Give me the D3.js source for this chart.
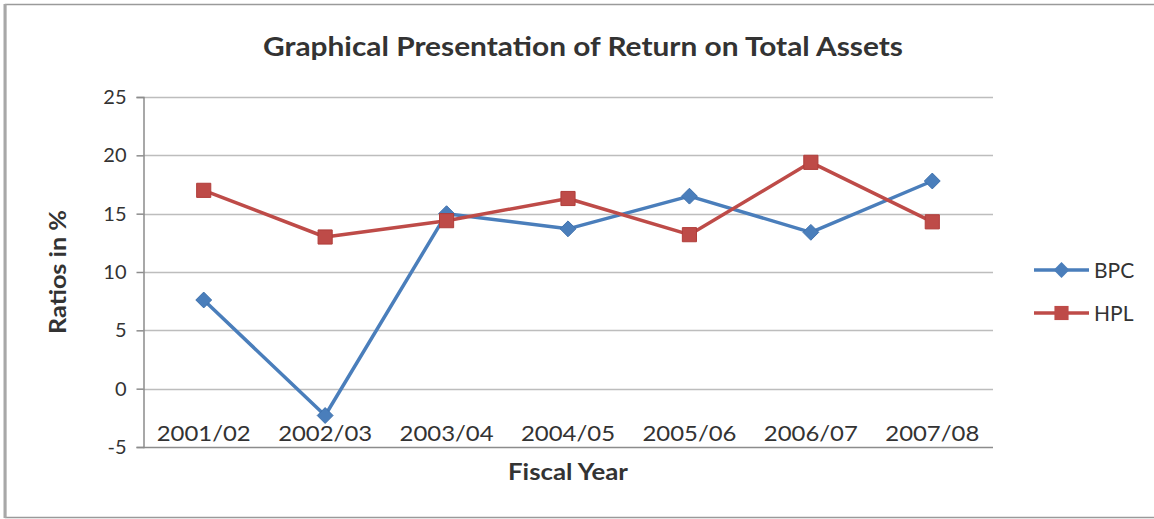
<!DOCTYPE html>
<html>
<head>
<meta charset="utf-8">
<script src="https://cdn.jsdelivr.net/npm/d3@7"></script>
<style>
  html, body { margin: 0; padding: 0; background: #fff; }
  svg { display: block; }
  text { font-family: Lato, "Open Sans", sans-serif; fill: #333; }
</style>
</head>
<body>
<svg id="chart" width="1154" height="519"></svg>
<script>
// Fiscal years on the category axis
const years = ["2001/02", "2002/03", "2003/04", "2004/05", "2005/06", "2006/07", "2007/08"];
// Return on total assets (%) per company
const bpcValues = [7.6, -2.3, 15.0, 13.7, 16.5, 13.4, 17.8];
const hplValues = [17.0, 13.0, 14.4, 16.3, 13.2, 19.4, 14.3];
const seriesNames = ["BPC", "HPL"];
const seriesColors = ["#4a7ebb", "#be4b48"];
const yTicks = [-5, 0, 5, 10, 15, 20, 25];

const svg = d3.select("#chart");

// outer chart frame
svg.append("path")
  .attr("d", "M1160,4.5 H5.5 V517.5 H1160")
  .attr("fill", "none").attr("stroke", "#9a9a9a").attr("stroke-width", 1.5);
svg.append("line").attr("x1", 5).attr("x2", 5).attr("y1", 4).attr("y2", 518)
  .attr("stroke", "#a8a8a8").attr("stroke-width", 3);

const plot = { left: 143, right: 993, top: 97, bottom: 447 };

const x = d3.scaleBand().domain(years).range([plot.left, plot.right]);
const y = d3.scaleLinear().domain([-5, 25]).range([plot.bottom, plot.top]);

// horizontal gridlines
svg.append("g").selectAll("line").data(yTicks).join("line")
  .attr("x1", plot.left).attr("x2", plot.right)
  .attr("y1", d => Math.round(y(d)) + 0.5).attr("y2", d => Math.round(y(d)) + 0.5)
  .attr("stroke", d => d === -5 ? "#8c8c8c" : "#bdbdbd").attr("stroke-width", 1.5);

// y axis (plain hyphen for negative values)
const yAxis = d3.axisLeft(y).tickValues(yTicks).tickSize(7).tickPadding(10)
  .tickFormat(d => String(d));
const gy = svg.append("g").attr("transform", `translate(${plot.left + 0.5},0)`).call(yAxis);
gy.select(".domain").attr("stroke", "#8c8c8c").attr("stroke-width", 1.5);
gy.selectAll(".tick line").attr("stroke", "#8c8c8c").attr("stroke-width", 1.5);
gy.selectAll(".tick text").attr("font-size", 20).attr("fill", "#333")
  .style("font-family", "Lato, sans-serif");

// category labels, placed just above the bottom axis line
svg.append("g").selectAll("text").data(years).join("text")
  .attr("x", d => x(d) + x.bandwidth() / 2)
  .attr("y", 441)
  .attr("text-anchor", "middle")
  .attr("font-size", 21)
  .attr("textLength", 94).attr("lengthAdjust", "spacingAndGlyphs")
  .text(d => d);

// series lines and markers
const line = d3.line().x((d, i) => x(years[i]) + x.bandwidth() / 2).y(d => y(d));
const allSeries = [bpcValues, hplValues];

allSeries.forEach((vals, s) => {
  svg.append("path").datum(vals)
    .attr("d", line)
    .attr("fill", "none")
    .attr("stroke", seriesColors[s])
    .attr("stroke-width", 3.5)
    .attr("stroke-linejoin", "round");
});

const diamond = d3.symbol().type(d3.symbolDiamond2).size(160);
const square = d3.symbol().type(d3.symbolSquare).size(200);

allSeries.forEach((vals, s) => {
  svg.append("g").selectAll("path").data(vals).join("path")
    .attr("transform", (d, i) => `translate(${x(years[i]) + x.bandwidth() / 2},${y(d)})`)
    .attr("d", s === 0 ? diamond : square)
    .attr("fill", seriesColors[s])
    .attr("stroke", s === 0 ? "#3f71ad" : "#b03d3a")
    .attr("stroke-width", 1);
});

// title
svg.append("text")
  .attr("x", 583).attr("y", 56)
  .attr("text-anchor", "middle")
  .attr("font-size", 27).attr("font-weight", "bold")
  .attr("textLength", 640).attr("lengthAdjust", "spacingAndGlyphs")
  .text("Graphical Presentation of Return on Total Assets");

// axis titles
svg.append("text")
  .attr("transform", "translate(66,272) rotate(-90)")
  .attr("text-anchor", "middle")
  .attr("font-size", 22).attr("font-weight", "bold")
  .attr("textLength", 124).attr("lengthAdjust", "spacingAndGlyphs")
  .text("Ratios in %");

svg.append("text")
  .attr("x", 568).attr("y", 480)
  .attr("text-anchor", "middle")
  .attr("font-size", 22).attr("font-weight", "bold")
  .attr("textLength", 120).attr("lengthAdjust", "spacingAndGlyphs")
  .text("Fiscal Year");

// legend
const legend = svg.append("g").selectAll("g").data(seriesNames).join("g")
  .attr("transform", (d, i) => `translate(1034,${270 + i * 43})`);
legend.append("line")
  .attr("x1", 0).attr("x2", 55).attr("y1", 0).attr("y2", 0)
  .attr("stroke", (d, i) => seriesColors[i]).attr("stroke-width", 3.5);
legend.append("path")
  .attr("transform", "translate(27.5,0)")
  .attr("d", (d, i) => i === 0 ? diamond() : square())
  .attr("fill", (d, i) => seriesColors[i]);
legend.append("text")
  .attr("x", 60).attr("y", 8)
  .attr("font-size", 21)
  .text(d => d);
</script>
</body>
</html>
